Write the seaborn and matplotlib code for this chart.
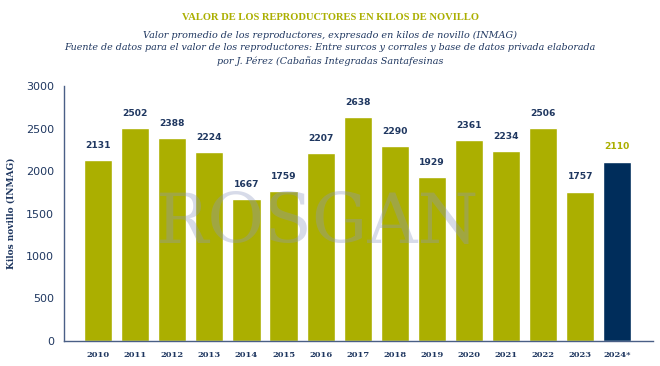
import matplotlib
matplotlib.use("Agg")
import matplotlib.pyplot as plt
import seaborn as sns
import pandas as pd

years = ["2010", "2011", "2012", "2013", "2014", "2015", "2016", "2017",
         "2018", "2019", "2020", "2021", "2022", "2023", "2024*"]
values = [2131, 2502, 2388, 2224, 1667, 1759, 2207, 2638,
          2290, 1929, 2361, 2234, 2506, 1757, 2110]
y_ticks = [0, 500, 1000, 1500, 2000, 2500, 3000]

OLIVE = "#abaf00"
NAVY = "#002d5b"
TXT = "#1f3760"

sns.set_theme(style="white")
plt.rcParams['font.family'] = ['DejaVu Serif', 'DejaVu Sans']

df = pd.DataFrame({"year": years, "value": values})
palette = [OLIVE] * (len(years) - 1) + [NAVY]

fig = plt.figure(figsize=(6.6, 3.66), dpi=100)
ax = fig.add_axes([64 / 660, 1 - 341 / 366, (653 - 64) / 660, (341 - 86) / 366])

sns.barplot(data=df, x="year", y="value", hue="year", palette=palette,
            legend=False, width=0.76, saturation=1, ax=ax, zorder=2)

ax.set_ylim(0, 3000)
ax.set_xlim(-0.92, 14.96)
ax.set_yticks(y_ticks)
ax.set_yticklabels([str(t) for t in y_ticks], fontsize=8, color=TXT, family='DejaVu Sans')
ax.set_xticks(range(len(years)))
ax.set_xticklabels(years, fontsize=6, color=TXT, fontweight='bold')
ax.set_xlabel("")
ax.set_ylabel("Kilos novillo (INMAG)", fontsize=6.5, color=TXT, fontweight='bold')
ax.yaxis.set_label_coords(-0.083, 0.5)

for s in ["top", "right"]:
    ax.spines[s].set_visible(False)
for s in ["left", "bottom"]:
    ax.spines[s].set_color("#4a5f86")
    ax.spines[s].set_linewidth(1.0)
ax.tick_params(axis='y', direction='out', length=4, width=0.8, color="#4a5f86", pad=3)
ax.tick_params(axis='x', direction='out', length=3, width=0.8, color="#4a5f86", pad=4)
ax.grid(False)

for i, v in enumerate(values):
    col = OLIVE if i == len(values) - 1 else TXT
    ax.text(i, v + 120, str(v), ha='center', va='bottom', fontsize=6.6,
            fontweight='bold', color=col, family='DejaVu Sans', zorder=4)

# watermark
ax.text(5.9, 1380, "ROSGAN", ha='center', va='center', fontsize=50,
        color="#8d98c0", alpha=0.35, family='DejaVu Serif', zorder=3)

fig.text(0.5, 1 - 17 / 366, "VALOR DE LOS REPRODUCTORES EN KILOS DE NOVILLO",
         ha='center', va='center', fontsize=7.6, fontweight='bold', color=OLIVE,
         family='Liberation Serif')
fig.text(0.5, 1 - 35 / 366, "Valor promedio de los reproductores, expresado en kilos de novillo (INMAG)",
         ha='center', va='center', fontsize=6.9, style='italic', color=TXT)
fig.text(0.5, 1 - 48 / 366, "Fuente de datos para el valor de los reproductores: Entre surcos y corrales y base de datos privada elaborada",
         ha='center', va='center', fontsize=6.8, style='italic', color=TXT)
fig.text(0.5, 1 - 61 / 366, "por J. Pérez (Cabañas Integradas Santafesinas",
         ha='center', va='center', fontsize=6.9, style='italic', color=TXT)

fig.savefig("out.png", dpi=100)
